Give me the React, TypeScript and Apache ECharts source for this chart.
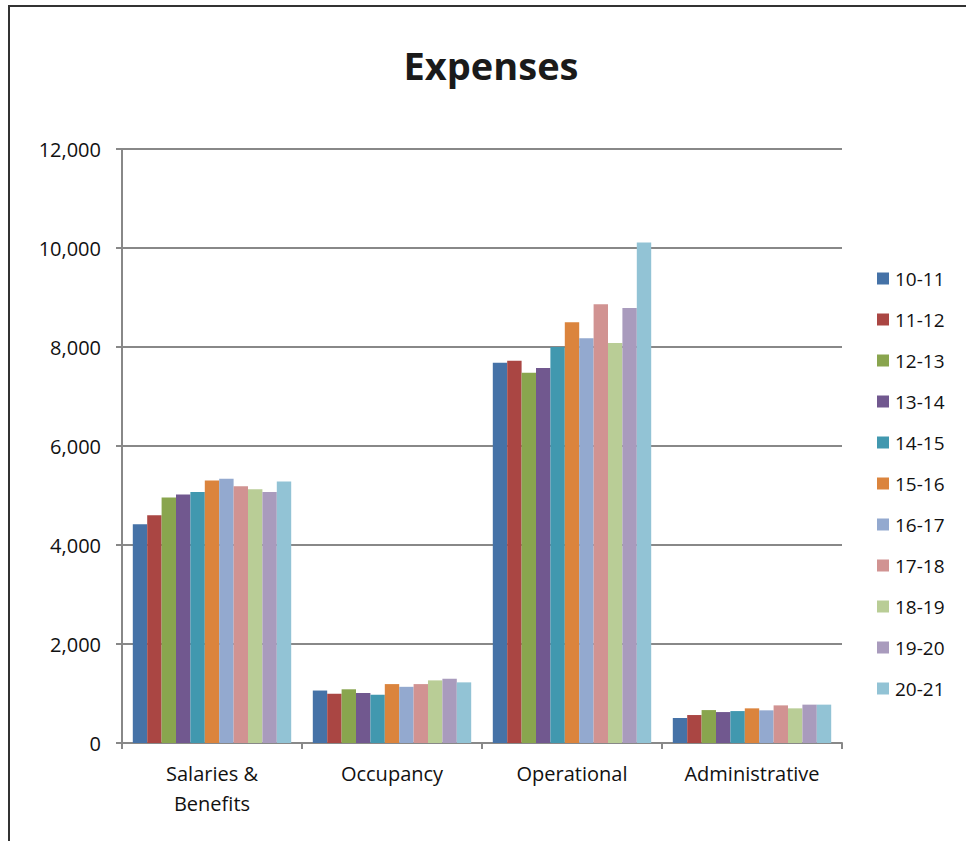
import React, { useEffect, useRef } from "react";
import * as echarts from "echarts";

const categories = ["Salaries &\nBenefits", "Occupancy", "Operational", "Administrative"];
const years = ["10-11", "11-12", "12-13", "13-14", "14-15", "15-16", "16-17", "17-18", "18-19", "19-20", "20-21"];
const colors = ["#4572A7", "#AA4643", "#89A54E", "#71588F", "#4198AF", "#DB843D", "#93A9CF", "#D19392", "#B9CD96", "#A99BBD", "#92C3D5"];

// values per year: [Salaries & Benefits, Occupancy, Operational, Administrative]
const y1011 = [4420, 1060, 7680, 505];
const y1112 = [4600, 995, 7720, 565];
const y1213 = [4960, 1085, 7480, 665];
const y1314 = [5020, 1010, 7575, 625];
const y1415 = [5070, 975, 8000, 645];
const y1516 = [5305, 1190, 8500, 700];
const y1617 = [5340, 1135, 8175, 660];
const y1718 = [5185, 1190, 8865, 760];
const y1819 = [5125, 1265, 8080, 700];
const y1920 = [5070, 1300, 8790, 775];
const y2021 = [5285, 1225, 10110, 775];
const values = [y1011, y1112, y1213, y1314, y1415, y1516, y1617, y1718, y1819, y1920, y2021];

const yMin = 0;
const yMax = 12000;
const yStep = 2000;

export default function App() {
  const ref = useRef<HTMLDivElement>(null);
  useEffect(() => {
    if (!ref.current) return;
    const chart = echarts.init(ref.current, undefined, { renderer: "svg" });
    const font = "'Open Sans', 'Noto Sans', sans-serif";
    chart.setOption({
      animation: false,
      backgroundColor: "#ffffff",
      textStyle: { fontFamily: font },
      title: {
        text: "Expenses",
        left: 486,
        textAlign: "center",
        top: 41,
        textStyle: { fontSize: 38, fontWeight: "bold", color: "#1a1a1a", fontFamily: font },
      },
      graphic: [
        {
          type: "rect",
          shape: { x: 9, y: 6, width: 2000, height: 2000 },
          style: { fill: "none", stroke: "#333333", lineWidth: 2 },
          silent: true,
        },
      ],
      legend: {
        orient: "vertical",
        left: 877,
        top: 269,
        padding: 0,
        itemWidth: 12,
        itemHeight: 12,
        itemGap: 22,
        icon: "rect",
        textStyle: { fontSize: 19, color: "#111", fontFamily: font, lineHeight: 19, padding: [0, 0, 0, 1] },
        data: years,
      },
      grid: { left: 122, top: 149, right: 124, bottom: 98, containLabel: false },
      xAxis: {
        type: "category",
        data: categories,
        axisLine: { show: true, lineStyle: { color: "#888888", width: 2 } },
        axisTick: { show: true, length: 6, lineStyle: { color: "#888888", width: 2 } },
        axisLabel: { fontSize: 20, color: "#111", margin: 15, lineHeight: 30, fontFamily: font },
      },
      yAxis: {
        type: "value",
        min: yMin,
        max: yMax,
        interval: yStep,
        axisLine: { show: true, lineStyle: { color: "#888888", width: 2 } },
        axisTick: { show: true, length: 6, lineStyle: { color: "#888888", width: 2 } },
        splitLine: { show: true, lineStyle: { color: "#888888", width: 2 } },
        axisLabel: {
          fontSize: 20,
          color: "#111",
          margin: 21,
          fontFamily: font,
          formatter: (v: number) => v.toLocaleString("en-US"),
        },
      },
      series: years.map((y, i) => ({
        name: y,
        type: "bar",
        data: values[i],
        barGap: "0%",
        barCategoryGap: "12%",
        itemStyle: { color: colors[i] },
      })),
    });
    return () => chart.dispose();
  }, []);
  return (
    <div
      ref={ref}
      style={{ position: "fixed", left: 0, top: 0, width: 966, height: 841 }}
    />
  );
}
